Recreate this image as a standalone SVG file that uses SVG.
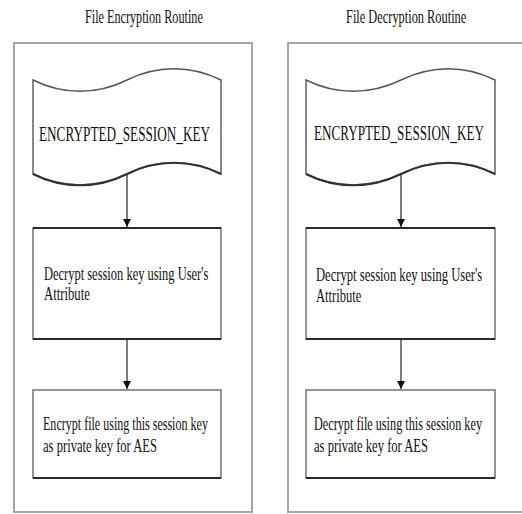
<svg xmlns="http://www.w3.org/2000/svg" width="522" height="514" viewBox="0 0 522 514">
  <style>
    .title { font-family: "Liberation Serif", "Times New Roman", serif; font-size: 19px; fill: #111; }
    .lbl { font-family: "Liberation Serif", "Times New Roman", serif; font-size: 19px; fill: #111; }
    .key { font-family: "Liberation Serif", "Times New Roman", serif; font-size: 21px; fill: #111; }
    .panel { fill: #fff; stroke: #a6a6a6; stroke-width: 2; }
    .wave { fill: #fff; stroke: #555; stroke-width: 1.4; }
    .box { fill: #fff; stroke: #7c7c7c; stroke-width: 1.6; }
    .edge { stroke: #2a2a2a; stroke-width: 2; }
    .link { stroke: #333; stroke-width: 1.3; fill: none; marker-end: url(#arrow); }
  </style>
  <defs>
    <marker id="arrow" viewBox="0 0 8 14" refX="8" refY="7" markerWidth="8" markerHeight="14" markerUnits="userSpaceOnUse" orient="auto">
      <path d="M0,3 L8,7 L0,11 Z" fill="#111"/>
    </marker>
  </defs>

  <rect width="522" height="514" fill="#fff"/>

  <!-- Encryption routine (text is set condensed: scaled to 62% width) -->
  <g id="panel-encrypt">
    <rect class="panel" x="14" y="43" width="238" height="469"/>
    <text class="title" transform="translate(85,23) scale(0.62,1)" textLength="190" lengthAdjust="spacingAndGlyphs">File Encryption Routine</text>
  </g>
  <g id="enc-key">
    <path class="wave" d="M33,80 C63,95 97,95 127,80 S191,65 221,80 L221,174 C191,159 157,159 127,174 S63,189 33,174 Z"/>
    <path d="M33,174 C63,189 97,189 127,174 S191,159 221,174" fill="none" stroke="#333" stroke-width="2"/>
    <text class="key" transform="translate(39,141) scale(0.62,1)" textLength="276" lengthAdjust="spacingAndGlyphs">ENCRYPTED_SESSION_KEY</text>
  </g>
  <g id="enc-decrypt-key">
    <rect class="box" x="33" y="228" width="188" height="111"/>
    <line class="edge" x1="33" y1="228" x2="221" y2="228"/>
    <line class="edge" x1="33" y1="339" x2="221" y2="339"/>
    <text class="lbl" transform="translate(44,280) scale(0.62,1)" textLength="265" lengthAdjust="spacingAndGlyphs">Decrypt session key using User's</text>
    <text class="lbl" transform="translate(44,300) scale(0.62,1)" textLength="74" lengthAdjust="spacingAndGlyphs">Attribute</text>
  </g>
  <g id="enc-encrypt-file">
    <rect class="box" x="33" y="390" width="188" height="88"/>
    <line class="edge" x1="33" y1="478" x2="221" y2="478"/>
    <text class="lbl" transform="translate(43,430) scale(0.62,1)" textLength="266" lengthAdjust="spacingAndGlyphs">Encrypt file using this session key</text>
    <text class="lbl" transform="translate(43,452) scale(0.62,1)" textLength="184" lengthAdjust="spacingAndGlyphs">as private key for AES</text>
  </g>

  <!-- Decryption routine -->
  <g id="panel-decrypt">
    <rect class="panel" x="288" y="43" width="250" height="469"/>
    <text class="title" transform="translate(346,23) scale(0.62,1)" textLength="194" lengthAdjust="spacingAndGlyphs">File Decryption Routine</text>
  </g>
  <g id="dec-key">
    <path class="wave" d="M306,80 C336,95 370,95 401,80 S465,65 495,80 L495,174 C465,159 431,159 401,174 S336,189 306,174 Z"/>
    <path d="M306,174 C336,189 370,189 401,174 S465,159 495,174" fill="none" stroke="#333" stroke-width="2"/>
    <text class="key" transform="translate(314,140) scale(0.62,1)" textLength="274" lengthAdjust="spacingAndGlyphs">ENCRYPTED_SESSION_KEY</text>
  </g>
  <g id="dec-decrypt-key">
    <rect class="box" x="306" y="228" width="189" height="111"/>
    <line class="edge" x1="306" y1="228" x2="495" y2="228"/>
    <line class="edge" x1="306" y1="339" x2="495" y2="339"/>
    <text class="lbl" transform="translate(316,281) scale(0.62,1)" textLength="268" lengthAdjust="spacingAndGlyphs">Decrypt session key using User's</text>
    <text class="lbl" transform="translate(316,302) scale(0.62,1)" textLength="73" lengthAdjust="spacingAndGlyphs">Attribute</text>
  </g>
  <g id="dec-decrypt-file">
    <rect class="box" x="306" y="390" width="189" height="88"/>
    <line class="edge" x1="306" y1="478" x2="495" y2="478"/>
    <text class="lbl" transform="translate(314,430) scale(0.62,1)" textLength="271" lengthAdjust="spacingAndGlyphs">Decrypt file using this session key</text>
    <text class="lbl" transform="translate(314,452) scale(0.62,1)" textLength="184" lengthAdjust="spacingAndGlyphs">as private key for AES</text>
  </g>

  <g id="connectors">
    <line class="link" x1="127" y1="175" x2="127" y2="227"/>
    <line class="link" x1="127" y1="340" x2="127" y2="389"/>
    <line class="link" x1="401" y1="175" x2="401" y2="227"/>
    <line class="link" x1="401" y1="340" x2="401" y2="389"/>
  </g>
</svg>
